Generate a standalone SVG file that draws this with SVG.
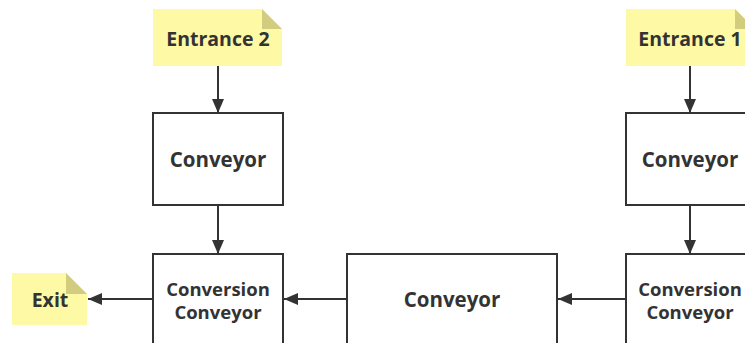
<svg xmlns="http://www.w3.org/2000/svg" width="745" height="343" viewBox="0 0 745 343">
<style>
.box{fill:#fff;stroke:#333;stroke-width:2}
.note{fill:#fdf9a4}
.fold{fill:#d2cd7e}
.t{font-family:"Open Sans","Noto Sans",sans-serif;font-weight:bold;fill:#333;text-anchor:middle;dominant-baseline:central}
.ent{font-size:19.5px}
.big{font-size:20.5px}
.sm{font-size:18.5px}
.c{stroke:#333;stroke-width:2;fill:none;marker-end:url(#ah)}
</style>
<defs>
<marker id="ah" markerWidth="14" markerHeight="12" refX="14" refY="6" orient="auto" markerUnits="userSpaceOnUse">
<path d="M0,0 L14,6 L0,12 Z" fill="#333"/>
</marker>
</defs>
<rect width="745" height="343" fill="#fff"/>
<g id="connectors">
<line class="c" x1="218" y1="66" x2="218" y2="113"/>
<line class="c" x1="218" y1="205" x2="218" y2="254"/>
<line class="c" x1="690" y1="66" x2="690" y2="113"/>
<line class="c" x1="690" y1="205" x2="690" y2="254"/>
<line class="c" x1="347" y1="299" x2="284" y2="299"/>
<line class="c" x1="626" y1="299" x2="558" y2="299"/>
<line class="c" x1="153" y1="299" x2="88" y2="299"/>
</g>
<g id="entrance2">
<path class="note" d="M153,9 H262 L282,29 V66 H153 Z"/>
<path class="fold" d="M262,9 L282,29 H262 Z"/>
<text class="t ent" x="218" y="38">Entrance 2</text>
</g>
<g id="entrance1">
<path class="note" d="M626,9 H735 L755,29 V66 H626 Z"/>
<path class="fold" d="M735,9 L755,29 H735 Z"/>
<text class="t ent" x="690" y="38">Entrance 1</text>
</g>
<g id="conveyor2">
<rect class="box" x="153" y="113" width="130" height="92"/>
<text class="t big" x="218" y="159">Conveyor</text>
</g>
<g id="conveyor1">
<rect class="box" x="626" y="113" width="130" height="92"/>
<text class="t big" x="690" y="159">Conveyor</text>
</g>
<g id="conversion2">
<rect class="box" x="153" y="254" width="130" height="100"/>
<text class="t sm" x="218" y="288">Conversion</text>
<text class="t sm" x="218" y="311">Conveyor</text>
</g>
<g id="conveyorMid">
<rect class="box" x="347" y="254" width="210" height="100"/>
<text class="t big" x="452" y="299">Conveyor</text>
</g>
<g id="conversion1">
<rect class="box" x="626" y="254" width="130" height="100"/>
<text class="t sm" x="690" y="288">Conversion</text>
<text class="t sm" x="690" y="311">Conveyor</text>
</g>
<g id="exit">
<path class="note" d="M12,273 H66 L87,294 V325 H12 Z"/>
<path class="fold" d="M66,273 L87,294 H66 Z"/>
<text class="t ent" x="50" y="299">Exit</text>
</g>
</svg>
